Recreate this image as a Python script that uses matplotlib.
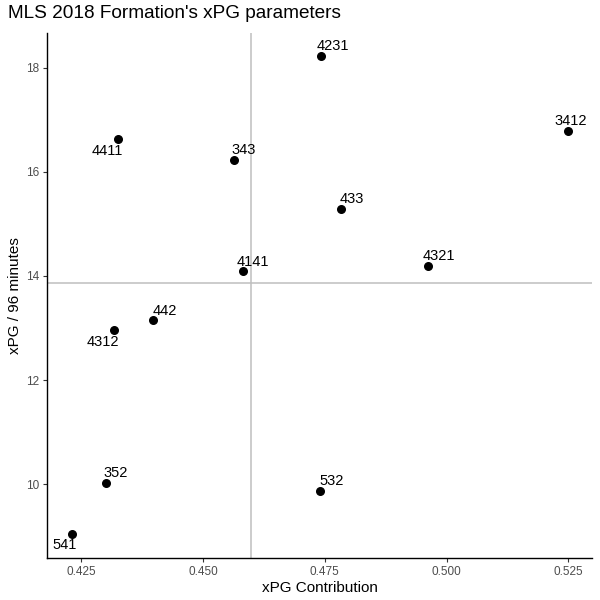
import matplotlib
matplotlib.use('Agg')
import matplotlib.pyplot as plt

plt.rcParams['font.family'] = ['Liberation Sans', 'DejaVu Sans']

# Formation data
formations = ['4231', '3412', '4411', '343', '433', '4141', '4321',
              '442', '4312', '352', '532', '541']
xpg_contribution = [0.4743, 0.5249, 0.4326, 0.4563, 0.4784, 0.4581, 0.4962,
                    0.4398, 0.4318, 0.4300, 0.4740, 0.4230]
xpg_96 = [18.22, 16.78, 16.63, 16.22, 15.28, 14.09, 14.19,
          13.16, 12.96, 10.03, 9.86, 9.04]

# reference lines (averages)
avg_contribution = 0.4599
avg_xpg = 13.87

x_ticks = [0.425, 0.450, 0.475, 0.500, 0.525]
y_ticks = [10, 12, 14, 16, 18]

# label placement (pixel offsets from point, alignment)
label_pos = {
    '4231': (-5, 6, 'left', 'baseline'),
    '3412': (3, 6, 'center', 'baseline'),
    '4411': (5, -5, 'right', 'top'),
    '343': (-2, 6, 'left', 'baseline'),
    '433': (-2, 6, 'left', 'baseline'),
    '4141': (-6, 5, 'left', 'baseline'),
    '4321': (-5, 6, 'left', 'baseline'),
    '442': (-1, 5, 'left', 'baseline'),
    '4312': (5, -5, 'right', 'top'),
    '352': (-2, 6, 'left', 'baseline'),
    '532': (-1, 6, 'left', 'baseline'),
    '541': (5, -4, 'right', 'top'),
}

fig = plt.figure(figsize=(6, 6), dpi=100)
ax = fig.add_axes([0.0788, 0.07, 0.9082, 0.875])

ax.axvline(avg_contribution, color='#BEBEBE', lw=1.1, zorder=1)
ax.axhline(avg_xpg, color='#BEBEBE', lw=1.1, zorder=1)

ax.scatter(xpg_contribution, xpg_96, s=30, color='black', zorder=3)

for name, x, y in zip(formations, xpg_contribution, xpg_96):
    dx, dy, ha, va = label_pos[name]
    ax.annotate(name, xy=(x, y), xytext=(dx, dy), textcoords='offset pixels',
                ha=ha, va=va, fontsize=10.5, color='black')

ax.set_xlim(0.4180, 0.5299)
ax.set_ylim(8.58, 18.67)
ax.set_xticks(x_ticks)
ax.set_xticklabels(['%.3f' % t for t in x_ticks])
ax.set_yticks(y_ticks)

for side in ['top', 'right']:
    ax.spines[side].set_visible(False)
for side in ['left', 'bottom']:
    ax.spines[side].set_linewidth(1.0)
    ax.spines[side].set_color('black')

ax.tick_params(axis='both', length=3, width=0.8, color='#333333',
               labelcolor='#4D4D4D', labelsize=8.5, pad=3)

ax.set_xlabel('xPG Contribution', fontsize=11, color='black', labelpad=2)
ax.set_ylabel('xPG / 96 minutes', fontsize=11, color='black', labelpad=2.5)
fig.text(0.013, 0.977, "MLS 2018 Formation's xPG parameters", fontsize=13.7,
         ha='left', va='center', color='black')

fig.savefig('out.png', dpi=100, facecolor='white')
